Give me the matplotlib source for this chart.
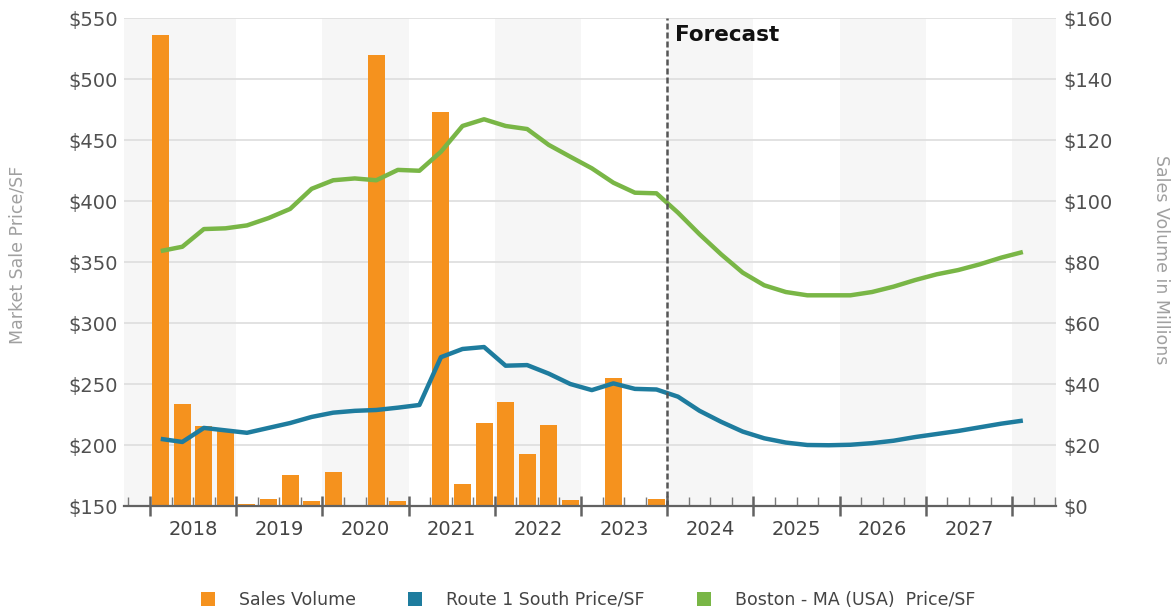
import matplotlib
matplotlib.use("Agg")
import matplotlib.pyplot as plt
from matplotlib.patches import Patch
import numpy as np

plt.rcParams['font.family'] = ['DejaVu Sans']

# ---- data -------------------------------------------------------------
years = ['2018', '2019', '2020', '2021', '2022', '2023', '2024', '2025', '2026', '2027']

# quarterly sales volume, $ millions, 2018 Q1 - 2023 Q4
sales_volume = [154.4, 33.6, 26.2, 24.8,
                0.8, 2.3, 10.2, 1.7,
                11.1, 0.0, 148.0, 1.6,
                0.0, 129.3, 7.2, 27.2,
                34.1, 17.0, 26.6, 2.0,
                0.0, 42.0, 0.0, 2.3]

# quarterly market sale price per SF, 2018 Q1 - 2028 Q1
route1_price = [205, 202.5, 214, 212, 210, 214, 218, 223,
                226.5, 228, 228.7, 230.6, 232.8, 272, 278.7, 280.3,
                265, 265.5, 258.5, 250, 245, 250.5, 246, 245.5,
                239.6, 228, 219, 211, 205.5, 202, 200, 199.8,
                200.2, 201.5, 203.5, 206.5, 209, 211.5, 214.5, 217.5,
                220]

boston_price = [359, 362.5, 377, 377.6, 380, 386, 393.5, 410,
                417, 418.5, 417, 425.5, 424.8, 440.4, 461.5, 467,
                461.5, 459, 446, 436.3, 426.8, 415, 406.8, 406.3,
                390.4, 372.7, 356.3, 341.3, 330.9, 325.4, 322.7, 322.7,
                322.7, 325.4, 329.8, 335.2, 339.9, 343.4, 348.1, 353.6,
                358.2]

forecast_start = 23.5          # boundary between 2023 Q4 and 2024 Q1

# ---- styling ----------------------------------------------------------
ORANGE = '#F5921E'
BLUE = '#1E7C9E'
GREEN = '#79B646'
BAND = '#F6F6F6'
GRID = '#DDDDDD'
TICK_TXT = '#505050'
AXIS = '#626262'

x_lo, x_hi = -1.707, 41.54

fig = plt.figure(figsize=(11.73, 6.13), dpi=100)
ax = fig.add_axes([0.1057, 0.17455, 0.7946, 0.79608])   # price (left)
ax2 = ax.twinx()                                          # volume (right)

# price layer sits above the bar layer
ax.set_zorder(2)
ax.patch.set_visible(False)
ax2.set_zorder(1)

# ---- background bands for alternate years -----------------------------
for i in range(0, 12, 2):
    start = -0.5 + 4 * i
    end = start + 4
    if i == 0:
        start = x_lo
    ax2.axvspan(start, min(end, x_hi), color=BAND, zorder=0, lw=0)

# ---- bars ---------------------------------------------------------------
q_hist = np.arange(len(sales_volume))
ax2.bar(q_hist, sales_volume, width=0.79, color=ORANGE, zorder=2, lw=0)
ax2.set_ylim(0, 160)
ax2.set_yticks(np.arange(0, 161, 20))
ax2.set_yticklabels([f'${v}' for v in range(0, 161, 20)])
ax2.set_axisbelow(True)
ax2.grid(axis='y', color=GRID, lw=1.2)
ax2.tick_params(axis='y', length=0, pad=5, labelsize=14, labelcolor=TICK_TXT)
for s in ax2.spines.values():
    s.set_visible(False)

# ---- price lines --------------------------------------------------------
q_all = np.arange(len(route1_price))
ax.plot(q_all, boston_price, color=GREEN, lw=3.2, solid_capstyle='butt',
        solid_joinstyle='round', zorder=3)
ax.plot(q_all, route1_price, color=BLUE, lw=3.2, solid_capstyle='butt',
        solid_joinstyle='round', zorder=3)

ax.axvline(forecast_start, color='#555555', lw=1.8, ls=(0, (2.4, 1.2)), zorder=4)
ax.text(23.86, 0.953, 'Forecast', transform=ax.get_xaxis_transform(),
        ha='left', va='baseline', fontsize=15.5, fontweight='bold', color='#111111')

ax.set_ylim(150, 550)
ax.set_yticks(np.arange(150, 551, 50))
ax.set_yticklabels([f'${v}' for v in range(150, 551, 50)])
ax.tick_params(axis='y', length=0, pad=4.3, labelsize=14, labelcolor=TICK_TXT)

# ---- x axis: year boundaries (major) and quarter boundaries (minor) ----
ax.set_xlim(x_lo, x_hi)
ax.set_xticks([-0.5 + 4 * k for k in range(11)])
ax.set_xticks([q + 0.5 for q in range(-2, 42) if (q + 1) % 4 != 0], minor=True)
ax.tick_params(axis='x', which='major', direction='inout', length=14, width=1.8,
               color=AXIS, labelbottom=False)
ax.tick_params(axis='x', which='minor', direction='in', length=6.5, width=1.0,
               color='#7a7a7a')
for i, yr in enumerate(years):
    ax.text(1.5 + 4 * i, -0.049, yr, transform=ax.get_xaxis_transform(),
            ha='center', va='center', fontsize=14, color='#444444')

for name, s in ax.spines.items():
    s.set_visible(name == 'bottom')
ax.spines['bottom'].set_color(AXIS)
ax.spines['bottom'].set_linewidth(1.6)

# ---- axis titles ---------------------------------------------------------
fig.text(18 / 1173, 1 - 255 / 613, 'Market Sale Price/SF', rotation=90,
         ha='center', va='center', fontsize=12.5, color='#a0a0a0')
fig.text(1161 / 1173, 1 - 260 / 613, 'Sales Volume in Millions', rotation=270,
         ha='center', va='center', fontsize=12.5, color='#a0a0a0')

# ---- legend -------------------------------------------------------------
handles = [Patch(facecolor=ORANGE), Patch(facecolor=BLUE), Patch(facecolor=GREEN)]
labels = ['Sales Volume', 'Route 1 South Price/SF', 'Boston - MA (USA)  Price/SF']
fig.legend(handles, labels, loc='center', bbox_to_anchor=(588 / 1173, 1 - 600 / 613),
           ncol=3, frameon=False, fontsize=12.5, handlelength=0.8, handleheight=0.8,
           handletextpad=1.4, columnspacing=3.0, labelcolor='#444444')

fig.savefig('out.png', dpi=100, facecolor='white')
